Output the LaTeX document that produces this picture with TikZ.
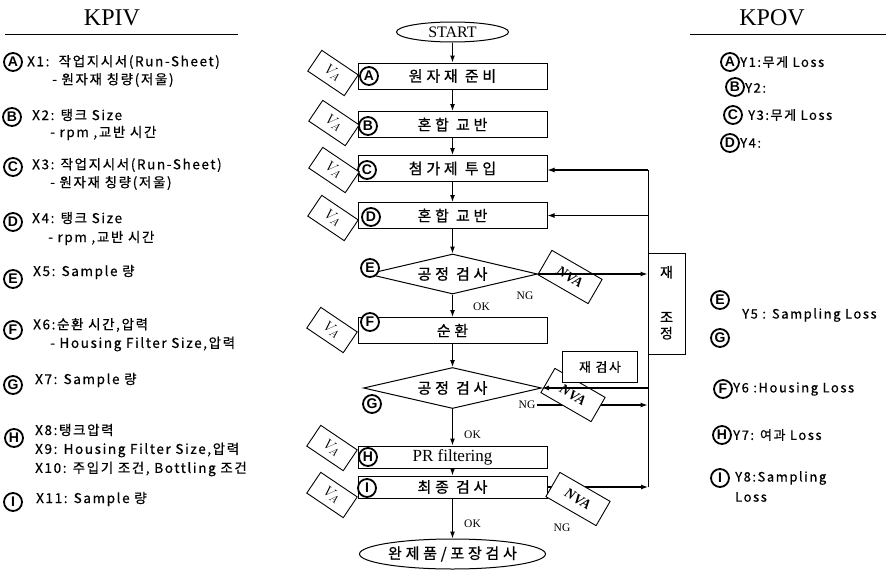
\documentclass[tikz,border=0pt]{standalone}
\usepackage{fontspec}
\setmainfont{Liberation Serif}
\newfontfamily\kr[LetterSpace=12,FakeBold=0.6]{Noto Sans CJK KR}
\newfontfamily\krw[LetterSpace=25,FakeBold=0.8]{Noto Sans CJK KR}
\newfontfamily\lsans{Liberation Sans}
\usetikzlibrary{shapes.geometric,arrows.meta}

\tikzset{
  procbox/.style={draw, line width=1pt, minimum width=189pt, minimum height=26pt, inner sep=0pt, font=\krw\fontsize{15}{17}\selectfont},
  checkbox/.style={draw, diamond, aspect=4.5, line width=1pt, minimum width=176pt, minimum height=40pt, inner sep=0pt, font=\krw\fontsize{15}{17}\selectfont},
  letter/.style={circle, draw, line width=1.8pt, minimum size=18pt, inner sep=0pt, fill=white, font=\lsans\bfseries\fontsize{14}{14}\selectfont},
  vatag/.style={draw, fill=white, line width=0.9pt, rotate=-34, minimum width=44pt, minimum height=25pt, inner sep=0pt, font=\fontsize{15}{15}\selectfont},
  nvatag/.style={draw, fill=white, line width=0.9pt, rotate=-30, minimum width=58pt, minimum height=28pt, inner sep=0pt, font=\bfseries\itshape\fontsize{14}{14}\selectfont},
  item/.style={anchor=west, inner sep=0pt, font=\kr\fontsize{13.5}{16}\selectfont},
  outitem/.style={anchor=west, inner sep=0pt, font=\kr\fontsize{13}{15}\selectfont},
  flow/.style={-{Latex[length=7pt,width=5pt]}, line width=1.2pt},
  okng/.style={inner sep=1pt, font=\fontsize{11.5}{12}\selectfont},
}

\begin{document}
\begin{tikzpicture}[x=1pt,y=-1pt]
\useasboundingbox (0,0) rectangle (886,570);

% Column headings
\node at (112,18) (kpiv) [font=\fontsize{24}{24}\selectfont] {KPIV};
\draw[line width=1pt] (5,34) -- (238,34);
\node at (772,18) (kpov) [font=\fontsize{24}{24}\selectfont] {KPOV};
\draw[line width=1pt] (690,34) -- (886,34);

% KPIV list
\node at (13,62) (xa) [letter] {A};
\node at (27,62) (xatext) [item] {X1:\ \ 작업지시서(Run-Sheet)};
\node at (52,80) (xasub) [item] {- 원자재 칭량(저울)};
\node at (12,117) (xb) [letter] {B};
\node at (32,115) (xbtext) [item] {X2: 탱크 Size};
\node at (50,133) (xbsub) [item] {- rpm ,교반 시간};
\node at (13,167) (xc) [letter] {C};
\node at (32,165) (xctext) [item] {X3: 작업지시서(Run-Sheet)};
\node at (50,183) (xcsub) [item] {- 원자재 칭량(저울)};
\node at (13,222) (xd) [letter] {D};
\node at (32,218) (xdtext) [item] {X4: 탱크 Size};
\node at (48,238) (xdsub) [item] {- rpm ,교반 시간};
\node at (13,279) (xe) [letter] {E};
\node at (33,272) (xetext) [item] {X5: Sample 량};
\node at (13,330) (xf) [letter] {F};
\node at (33,325) (xftext) [item] {X6:순환 시간,압력};
\node at (50,344) (xfsub) [item] {- Housing Filter Size,압력};
\node at (13,385) (xg) [letter] {G};
\node at (35,380) (xgtext) [item] {X7: Sample 량};
\node at (14,438) (xh) [letter] {H};
\node at (35,430) (xhtext) [item] {X8:탱크압력};
\node at (35,450) (xhsub) [item] {X9: Housing Filter Size,압력};
\node at (35,469) (xhsubb) [item] {X10: 주입기 조건, Bottling 조건};
\node at (13,502) (xi) [letter] {I};
\node at (36,499) (xitext) [item] {X11: Sample 량};

% Main flow
\node at (452.5,32) (start) [draw, ellipse, line width=1pt, minimum width=112pt, minimum height=20pt, inner sep=0pt, font=\fontsize{16}{16}\selectfont] {START};
\node at (452.5,76) (boxa) [procbox] {원자재 준비};
\node at (452.5,124.5) (boxb) [procbox] {혼합 교반};
\node at (452.5,168.5) (boxc) [procbox] {첨가제 투입};
\node at (452.5,215.5) (boxd) [procbox] {혼합 교반};
\node at (452.5,274) (chke) [checkbox, minimum width=170pt] {공정 검사};
\node at (452.5,330.5) (boxf) [procbox] {순환};
\node at (452.5,388) (chkg) [checkbox, minimum width=178pt, minimum height=41pt] {공정 검사};
\node at (452.5,457) (boxh) [procbox, minimum height=22pt, font=\fontsize{17}{17}\selectfont] {PR filtering};
\node at (452.5,487) (boxi) [procbox, minimum height=22pt] {최종 검사};
\node at (452.5,554) (endp) [draw, ellipse, line width=1pt, minimum width=186pt, minimum height=30pt, inner sep=0pt, font=\krw\fontsize{15}{17}\selectfont] {완제품/포장검사};

\draw[flow] (start) -- (boxa);
\draw[flow] (boxa) -- (boxb);
\draw[flow] (boxb) -- (boxc);
\draw[flow] (boxc) -- (boxd);
\draw[flow] (boxd) -- (chke);
\draw[flow] (chke) -- (boxf);
\draw[flow] (boxf) -- (chkg);
\draw[flow] (chkg) -- (boxh);
\draw[flow] (boxh) -- (boxi);
\draw[flow] (boxi) -- (endp);

% OK / NG labels
\node at (472,307) (oke) [okng, anchor=west] {OK};
\node at (463,435) (okg) [okng, anchor=west] {OK};
\node at (463,524) (oki) [okng, anchor=west] {OK};
\node at (525,296) (nge) [okng] {NG};
\node at (527,405) (ngg) [okng] {NG};
\node at (562,528) (ngi) [okng] {NG};

% Flow letters
\node at (369,76) (la) [letter] {A};
\node at (368,126) (lb) [letter] {B};
\node at (367,170) (lc) [letter] {C};
\node at (371,217) (ld) [letter] {D};
\node at (370,268) (le) [letter] {E};
\node at (370,322) (lf) [letter] {F};
\node at (372,404) (lg) [letter] {G};
\node at (368,457) (lh) [letter] {H};
\node at (367,488) (li) [letter] {I};

% VA tags
\node at (333,73) (vaa) [vatag] {$V_A$};
\node at (334,123) (vab) [vatag] {$V_A$};
\node at (334,170) (vac) [vatag] {$V_A$};
\node at (333,218) (vad) [vatag] {$V_A$};
\node at (332,330) (vaf) [vatag] {$V_A$};
\node at (332,448) (vah) [vatag] {$V_A$};
\node at (332,495) (vai) [vatag] {$V_A$};

% Rework path
\node at (666.5,303.5) (rejust) [draw, line width=1pt, minimum width=37pt, minimum height=101pt, inner sep=0pt, align=center, font=\kr\fontsize{14}{16}\selectfont] {\\[-6pt]재\\[29pt]조\\[0pt]정};
\coordinate (fbtop) at (648,170);
\coordinate (fbbot) at (648,487);
\draw[line width=1pt] (fbbot) -- (fbtop);
\draw[flow] (fbtop) -- (fbtop -| boxc.east);
\draw[flow] (fbtop |- boxd.east) -- (boxd.east);

\node at (570,277) (nvae) [nvatag] {NVA};
\draw[flow] (chke.east) -- (chke.east -| rejust.west);

\draw[flow] (ngg.east) -- (ngg.east -| rejust.west);
\node at (573,395) (nvag) [nvatag] {NVA};
\draw[flow] (chkg.east -| fbtop) -- (chkg.east);
\node at (600,367) (recheck) [draw, fill=white, line width=1pt, minimum width=75pt, minimum height=31pt, inner sep=0pt, font=\kr\fontsize{13}{15}\selectfont] {재 검사};

\draw[flow] (boxi.east) -- (fbbot);
\node at (578,499) (nvai) [nvatag] {NVA};

% KPOV list
\node at (730,62) (ya) [letter] {A};
\node at (740,62) (yatext) [outitem] {Y1:무게 Loss};
\node at (735,87) (yb) [letter] {B};
\node at (745,88) (ybtext) [outitem] {Y2:};
\node at (733,115) (yc) [letter] {C};
\node at (748,115) (yctext) [outitem] {Y3:무게 Loss};
\node at (730,143) (yd) [letter] {D};
\node at (740,143) (ydtext) [outitem] {Y4:};
\node at (720,300) (ye) [letter] {E};
\node at (742,315) (yetext) [outitem] {Y5 : Sampling Loss};
\node at (720,338) (yg) [letter] {G};
\node at (723,389) (yf) [letter] {F};
\node at (733,389) (yftext) [outitem] {Y6 :Housing Loss};
\node at (722,435) (yh) [letter] {H};
\node at (733,435) (yhtext) [outitem] {Y7: 여과 Loss};
\node at (720,478) (yi) [letter] {I};
\node at (735,478) (yitext) [outitem] {Y8:Sampling};
\node at (735,497) (yisub) [outitem] {Loss};

\end{tikzpicture}
\end{document}
